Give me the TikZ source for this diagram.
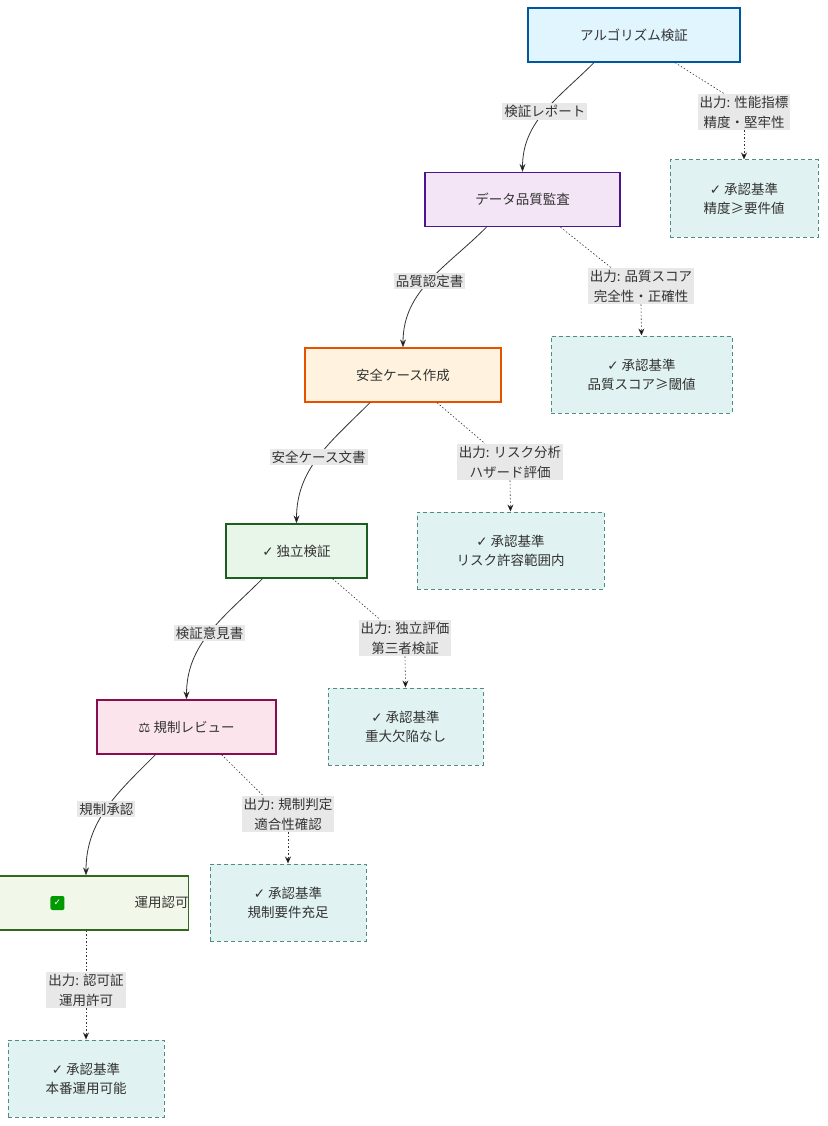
\documentclass[tikz,border=0pt]{standalone}
\usepackage{fontspec}
\setmainfont{Noto Sans CJK SC}
\newfontfamily\dv{DejaVu Sans}
\usetikzlibrary{arrows.meta}
\definecolor{outf}{HTML}{E0F2F1}
\definecolor{outd}{HTML}{4E8C84}
\definecolor{lbl}{HTML}{E8E8E8}
\definecolor{txt}{HTML}{333333}
\definecolor{aF}{HTML}{E1F5FE}\definecolor{aD}{HTML}{01579B}
\definecolor{bF}{HTML}{F3E5F5}\definecolor{bD}{HTML}{4A148C}
\definecolor{cF}{HTML}{FFF3E0}\definecolor{cD}{HTML}{E65100}
\definecolor{dF}{HTML}{E8F5E9}\definecolor{dD}{HTML}{1B5E20}
\definecolor{eF}{HTML}{FCE4EC}\definecolor{eD}{HTML}{880E4F}
\definecolor{fF}{HTML}{F1F8E9}\definecolor{fD}{HTML}{33691E}
\newcommand{\ck}{{\dv ✓}}
\begin{document}
\begin{tikzpicture}[x=1pt,y=-1pt,
  font=\fontsize{13.5}{19}\selectfont, text=txt,
  xstp/.style={draw, line width=1.3pt, minimum height=54pt, inner sep=0pt, align=center},
  xobox/.style={draw=outd, fill=outf, line width=1pt, minimum height=77pt, inner sep=0pt, align=center, dash pattern=on 4pt off 3pt},
  xlab/.style={fill=lbl, inner sep=2pt, align=center, font=\fontsize{13.5}{20}\selectfont},
  xconn/.style={draw=txt, line width=0.8pt, -{Stealth[length=8pt,width=6pt]}},
  xdot/.style={draw=txt, line width=0.6pt, dash pattern=on 1.5pt off 2pt},
  xdoa/.style={xdot, -{Stealth[length=7pt,width=6pt]}}]
\useasboundingbox (0,0) rectangle (827,1126);
% main steps
\node[xstp, draw=aD, fill=aF, minimum width=212pt] (A) at (634,35) {アルゴリズム検証};
\node[xstp, draw=bD, fill=bF, minimum width=195pt] (B) at (522.5,199.5) {データ品質監査};
\node[xstp, draw=cD, fill=cF, minimum width=196pt] (C) at (403,375) {安全ケース作成};
\node[xstp, draw=dD, fill=dF, minimum width=141pt] (D) at (296.5,551) {\ck\ 独立検証};
\node[xstp, draw=eD, fill=eF, minimum width=179pt] (E) at (186.5,727) {{\dv ⚖}\ 規制レビュー};
\node[xstp, draw=fD, fill=fF, minimum width=148pt] (F) at (86,903) {\tikz[baseline=-4pt,y=1pt,x=1pt]{\fill[green!60!black,rounded corners=2pt] (-7,-7) rectangle (7,7); \node[white,font=\dv\bfseries\small,inner sep=0] at (0,0){✓};}\ 運用認可};
% output boxes
\node[xobox, minimum width=148pt] (Ao) at (744,198.5) {\ck\ 承認基準\\精度≥要件値};
\node[xobox, minimum width=181pt] (Bo) at (641.5,374.5) {\ck\ 承認基準\\品質スコア≥閾値};
\node[xobox, minimum width=187pt] (Co) at (510.5,550.5) {\ck\ 承認基準\\リスク許容範囲内};
\node[xobox, minimum width=155pt] (Do) at (405.5,726.5) {\ck\ 承認基準\\重大欠陥なし};
\node[xobox, minimum width=156pt] (Eo) at (288,902.5) {\ck\ 承認基準\\規制要件充足};
\node[xobox, minimum width=156pt] (Fo) at (86,1078.5) {\ck\ 承認基準\\本番運用可能};
% output labels
\node[xlab] (Al) at (744,112) {出力: 性能指標\\精度・堅牢性};
\node[xlab] (Bl) at (641,286) {出力: 品質スコア\\完全性・正確性};
\node[xlab] (Cl) at (510,462) {出力: リスク分析\\ハザード評価};
\node[xlab] (Dl) at (405,638) {出力: 独立評価\\第三者検証};
\node[xlab] (El) at (288,814) {出力: 規制判定\\適合性確認};
\node[xlab] (Fl) at (86,990) {出力: 認可証\\運用許可};
% main connectors
\draw[xconn] ([xshift=-40pt]A.south) to[out=225,in=90] node[xlab,pos=0.5]{検証レポート} (B.north);
\draw[xconn] ([xshift=-36pt]B.south) to[out=225,in=90] node[xlab,pos=0.5]{品質認定書} (C.north);
\draw[xconn] ([xshift=-33pt]C.south) to[out=225,in=90] node[xlab,pos=0.5]{安全ケース文書} (D.north);
\draw[xconn] ([xshift=-34pt]D.south) to[out=225,in=90] node[xlab,pos=0.5]{検証意見書} (E.north);
\draw[xconn] ([xshift=-31pt]E.south) to[out=225,in=90] node[xlab,pos=0.5]{規制承認} (F.north);
% output connectors
\draw[xdot] ([xshift=41pt]A.south) -- ([xshift=-20pt]Al.north);
\draw[xdoa] (Al.south) -- (Ao.north);
\draw[xdot] ([xshift=38pt]B.south) -- ([xshift=-30pt]Bl.north);
\draw[xdoa] (Bl.south) -- (Bo.north);
\draw[xdot] ([xshift=34pt]C.south) -- ([xshift=-25pt]Cl.north);
\draw[xdoa] (Cl.south) -- (Co.north);
\draw[xdot] ([xshift=36pt]D.south) -- ([xshift=-25pt]Dl.north);
\draw[xdoa] (Dl.south) -- (Do.north);
\draw[xdot] ([xshift=35pt]E.south) -- ([xshift=-25pt]El.north);
\draw[xdoa] (El.south) -- (Eo.north);
\draw[xdot] (F.south) -- (Fl.north);
\draw[xdoa] (Fl.south) -- (Fo.north);
\end{tikzpicture}
\end{document}
